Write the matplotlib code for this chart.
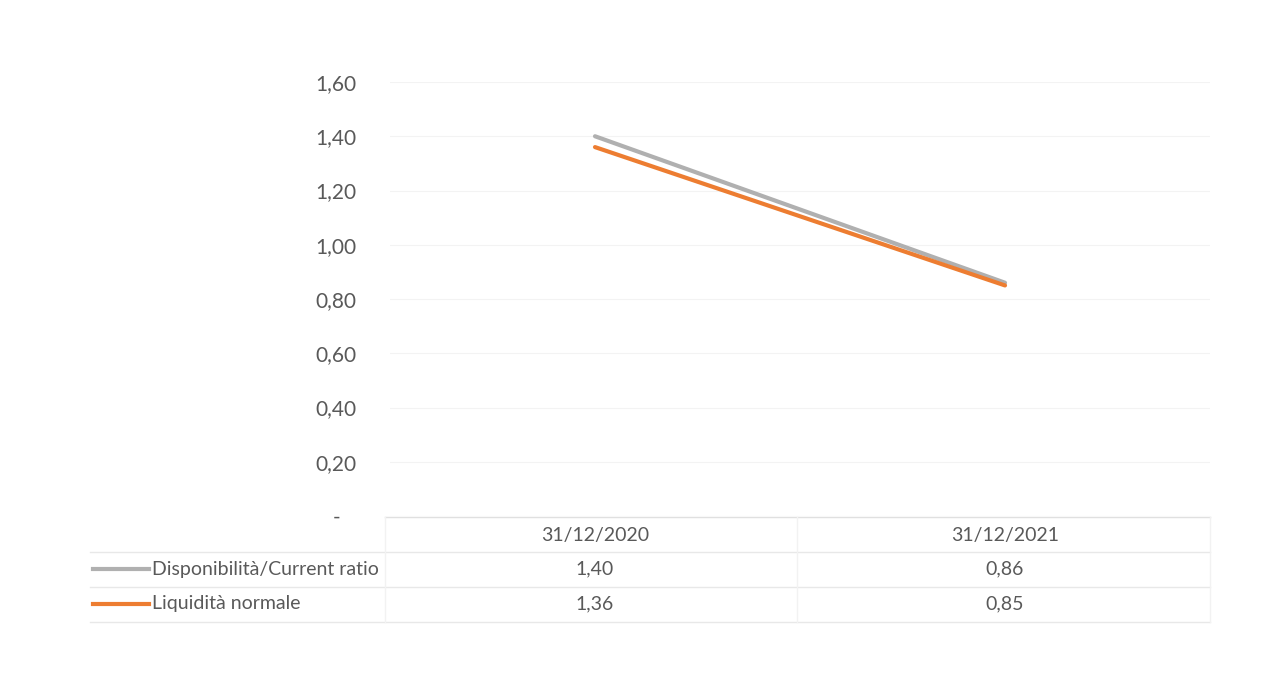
import matplotlib.pyplot as plt
import matplotlib.transforms as mtransforms
from matplotlib.lines import Line2D

plt.rcParams['font.family'] = ['Lato', 'DejaVu Sans']

# dati
date = ['31/12/2020', '31/12/2021']
current_ratio = [1.40, 0.86]
liquidita = [1.36, 0.85]
serie = ['Disponibilità/Current ratio', 'Liquidità normale']
colori = ['#B0B0B0', '#ED7D31']
yticks = [0, 0.2, 0.4, 0.6, 0.8, 1.0, 1.2, 1.4, 1.6]

W, H = 1277, 691
fig = plt.figure(figsize=(W / 100, H / 100), dpi=100)

def fy(py):
    return 1 - py / H

def fx(px):
    return px / W

ax = fig.add_axes([fx(390), fy(516), fx(1210) - fx(390), fy(82) - fy(516)])

x = list(range(len(date)))
ax.plot(x, current_ratio, color=colori[0], lw=3.0, solid_capstyle='round', zorder=3)
ax.plot(x, liquidita, color=colori[1], lw=3.0, solid_capstyle='round', zorder=4)

ax.set_xlim(-0.5, len(date) - 0.5)
ax.set_ylim(0, 1.6)
ax.set_yticks(yticks)
ax.set_yticklabels(['-   ' if v == 0 else f'{v:.2f}'.replace('.', ',') for v in yticks])
ax.tick_params(axis='y', length=0, pad=24, labelsize=15, labelcolor='#595959')
ax.set_xticks([])
for s in ax.spines.values():
    s.set_visible(False)
ax.grid(axis='y', color='#f3f3f3', lw=0.8)
ax.set_axisbelow(True)

# tabella dati sotto il grafico
tr = mtransforms.blended_transform_factory(ax.transData, fig.transFigure)
righe_y = [535, 569, 604]
for i, d in enumerate(date):
    ax.text(i, fy(righe_y[0]), d, transform=tr, ha='center', va='center',
            fontsize=14, color='#595959')
    ax.text(i, fy(righe_y[1]), f'{current_ratio[i]:.2f}'.replace('.', ','), transform=tr,
            ha='center', va='center', fontsize=14, color='#595959')
    ax.text(i, fy(righe_y[2]), f'{liquidita[i]:.2f}'.replace('.', ','), transform=tr,
            ha='center', va='center', fontsize=14, color='#595959')

lc = '#e8e8e8'
fig.add_artist(Line2D([fx(385), fx(1210)], [fy(517), fy(517)], color='#e0e0e0', lw=1))
for py in [552, 587, 622]:
    fig.add_artist(Line2D([fx(90), fx(1210)], [fy(py), fy(py)], color=lc, lw=1))
for px in [385, 797, 1210]:
    fig.add_artist(Line2D([fx(px), fx(px)], [fy(517), fy(622)], color='#f2f2f2', lw=1))

# chiavi legenda
for i, nome in enumerate(serie):
    py = righe_y[i + 1]
    fig.add_artist(Line2D([fx(93), fx(149)], [fy(py), fy(py)], color=colori[i], lw=3.0))
    fig.text(fx(152), fy(py), nome, ha='left', va='center', fontsize=14, color='#595959')

fig.savefig('out.png', dpi=100, facecolor='white')
